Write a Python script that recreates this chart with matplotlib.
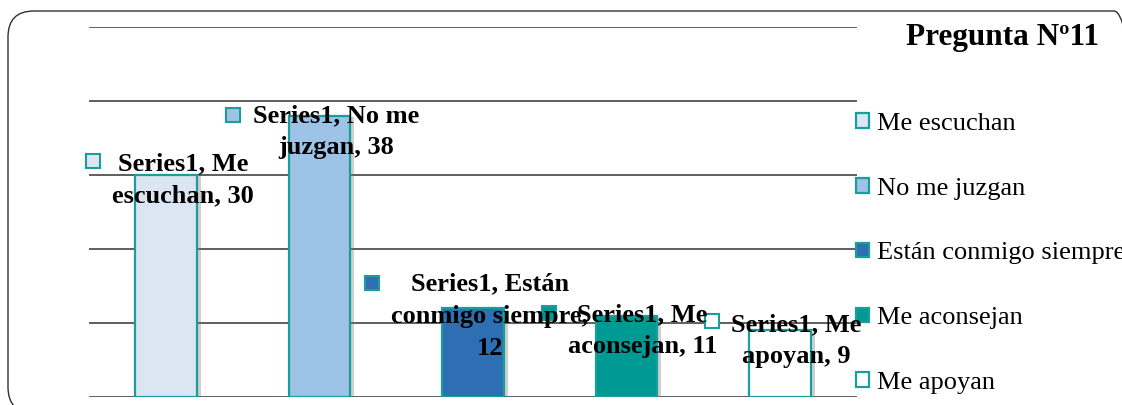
import matplotlib
matplotlib.use("Agg")
import matplotlib.pyplot as plt
import matplotlib.patheffects as pe
from matplotlib.patches import FancyBboxPatch
from matplotlib.transforms import offset_copy

plt.rcParams["font.family"] = ["Liberation Serif", "DejaVu Serif"]

# ── data ────────────────────────────────────────────────────────────────────
series_name = "Series1"
categories = ["Me escuchan", "No me juzgan", "Están conmigo siempre",
              "Me aconsejan", "Me apoyan"]
values = [30, 38, 12, 11, 9]
# data-label text as wrapped in the original chart
label_texts = [
    f"{series_name}, Me\nescuchan, {values[0]}",
    f"{series_name}, No me\njuzgan, {values[1]}",
    f"{series_name}, Están\nconmigo siempre,\n{values[2]}",
    f"{series_name}, Me\naconsejan, {values[3]}",
    f"{series_name}, Me\napoyan, {values[4]}",
]
title = "Pregunta Nº11"

# ── style ───────────────────────────────────────────────────────────────────
bar_colors = ["#dce6f2", "#9dc3e6", "#2e6eb2", "#009a94", "#ffffff"]
edge_color = "#1a9e9b"
grid_color = "#333333"
# pixel offsets of (marker, text) relative to bar center / bar top
marker_off = [(-73, 14), (-86, 1), (-101, 25), (-78, 3), (-68, 9)]
text_off = [(17, -5), (17, -16), (17, -8), (16, -15), (16, -10)]

W, H, DPI = 1122, 405, 100
fig = plt.figure(figsize=(W / DPI, H / DPI), dpi=DPI)

# rounded outer frame (partly outside the canvas, as in the original)
frame = FancyBboxPatch((8, -8), 1132, 402, boxstyle="round,pad=0,rounding_size=26",
                       transform=None, facecolor="none", edgecolor="#303030",
                       lw=1.0, zorder=10)
fig.patches.append(frame)

ax = fig.add_axes([89 / W, 8 / H, 768 / W, 370 / H])
ax.patch.set_alpha(0)
x = list(range(len(categories)))
bars = ax.bar(x, values, width=0.40, color=bar_colors, edgecolor=edge_color,
              linewidth=1.6, zorder=3)
for b in bars:
    b.set_path_effects([pe.SimplePatchShadow(offset=(3, -1), shadow_rgbFace="#777777",
                                             alpha=0.35), pe.Normal()])

ax.set_xlim(-0.5, len(categories) - 0.5)
ax.set_ylim(0, 50)
ax.set_yticks(range(0, 51, 10))
ax.yaxis.grid(True, color=grid_color, lw=1.1)
ax.set_axisbelow(True)
ax.tick_params(length=0, labelleft=False, labelbottom=False)
for s in ax.spines.values():
    s.set_visible(False)

# data labels with their small legend-key squares
for i, (v, txt) in enumerate(zip(values, label_texts)):
    mt = offset_copy(ax.transData, fig=fig, x=marker_off[i][0], y=marker_off[i][1], units="dots")
    ax.plot([i], [v], marker="s", ms=10, mfc=bar_colors[i], mec=edge_color, mew=1.5,
            transform=mt, zorder=5, clip_on=False)
    ax.annotate(txt, (i, v), xytext=(text_off[i][0] * 72 / DPI, text_off[i][1] * 72 / DPI),
                textcoords="offset points", ha="center", va="center", fontsize=19,
                fontweight="bold", linespacing=1.5, zorder=6, annotation_clip=False)

fig.text(1003 / W, 367 / H, title, ha="center", va="center", fontsize=22.5, fontweight="bold")

leg = ax.legend(bars, categories, loc="upper left", bbox_to_anchor=(856 / W, 1 - 113 / H),
                bbox_transform=fig.transFigure, frameon=False, fontsize=19,
                handlelength=0.48, handleheight=0.48, handletextpad=0.3,
                labelspacing=1.62, borderpad=0, borderaxespad=0)
for h in leg.legend_handles:
    h.set_path_effects([])

fig.savefig("out.png", dpi=DPI)
